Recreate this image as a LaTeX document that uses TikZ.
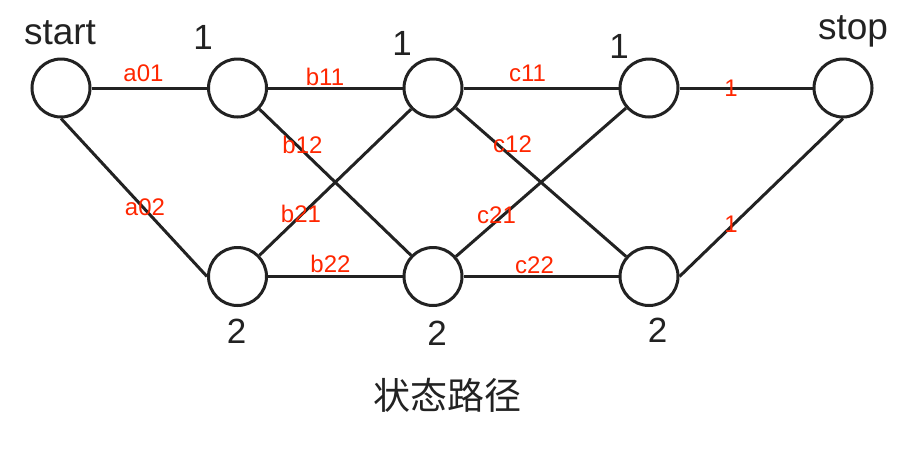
\documentclass[tikz,border=0pt]{standalone}
\usepackage{fontspec}
\setmainfont{Liberation Sans}
\newfontfamily\cjkfont{Noto Sans CJK SC}
\definecolor{ink}{RGB}{34,34,34}
\definecolor{wred}{RGB}{255,38,0}

\begin{document}
\begin{tikzpicture}[x=1pt,y=-1pt,nodes={draw=ink,circle,line width=3pt,minimum size=58pt,inner sep=0pt},
    ln/.style={draw=ink,line width=3pt},
    tag/.style={draw=none,rectangle,minimum size=0pt,anchor=base,text=ink,font=\fontsize{35}{35}\selectfont},
    wt/.style={draw=none,rectangle,minimum size=0pt,anchor=base,text=wred,font=\fontsize{24}{24}\selectfont}]

      \useasboundingbox (0,0) rectangle (918,448);

      \node (0) at (61,88) {};
      \node (1) at (237.5,88) {};
      \node (2) at (237.5,276.5) {};
      \node (3) at (433,88) {};
      \node (4) at (433,276.5) {};
      \node (5) at (649,88) {};
      \node (6) at (649,276.5) {};
      \node (7) at (843,88) {};

      \node[tag,font=\fontsize{37}{37}\selectfont] (t0) at (60,44) {start};
      \node[tag] (t1) at (203,49) {1};
      \node[tag] (t3) at (402,55) {1};
      \node[tag] (t5) at (619,58) {1};
      \node[tag,font=\fontsize{37}{37}\selectfont] (t7) at (853,39) {stop};
      \node[tag] (t2) at (236.5,343) {2};
      \node[tag] (t4) at (437,345) {2};
      \node[tag] (t6) at (657.5,342) {2};

      \draw[ln] (0) -- (1);
      \draw[ln] (0.south) -- (2.west);
      \draw[ln] (1) -- (3);
      \draw[ln] (1) -- (4);
      \draw[ln] (2) -- (3);
      \draw[ln] (2) -- (4);
      \draw[ln] (3) -- (5);
      \draw[ln] (3) -- (6);
      \draw[ln] (4) -- (5);
      \draw[ln] (4) -- (6);
      \draw[ln] (5) -- (7);
      \draw[ln] (6.east) -- (7.south);

      \node[wt] (w01) at (143.5,81) {a01};
      \node[wt] (w02) at (145,215.5) {a02};
      \node[wt] (w11) at (325,85.5) {b11};
      \node[wt] (w12) at (302.5,153) {b12};
      \node[wt] (w21) at (301,222.5) {b21};
      \node[wt] (w22) at (330.5,272.5) {b22};
      \node[wt] (v11) at (527.5,81) {c11};
      \node[wt] (v12) at (512.5,152.5) {c12};
      \node[wt] (v21) at (496.5,223) {c21};
      \node[wt] (v22) at (534.5,273) {c22};
      \node[wt] (u1) at (731,96) {1};
      \node[wt] (u2) at (731,232.5) {1};

      \node[draw=none,rectangle,minimum size=0pt,text=ink,font=\cjkfont\fontsize{37}{37}\selectfont] (cap) at (447.5,395) {状态路径};

    \end{tikzpicture}
\end{document}
